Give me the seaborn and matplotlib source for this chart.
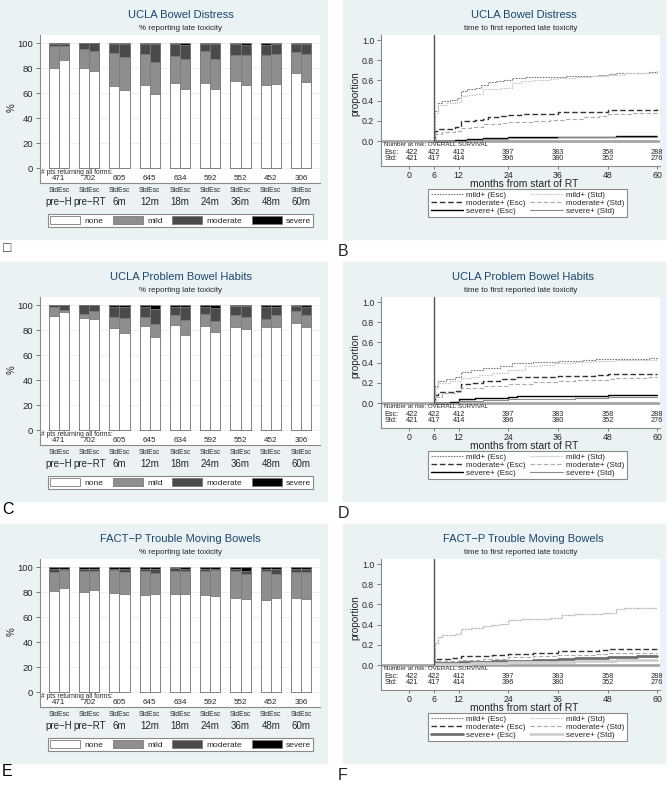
import numpy as np
import pandas as pd
import matplotlib
matplotlib.use("Agg")
import matplotlib.pyplot as plt
import seaborn as sns
from matplotlib.patches import Rectangle, Patch
from matplotlib.lines import Line2D

sns.set_style("white")
plt.rcParams["font.family"] = ["Liberation Sans", "DejaVu Sans"]

# ---------------- data ----------------
timepoints = ["pre\u2212H", "pre\u2212RT", "6m", "12m", "18m", "24m", "36m", "48m", "60m"]
pts_returning = [471, 702, 605, 645, 634, 592, 552, 452, 306]

# UCLA Bowel Distress (% none / mild / moderate / severe)
a_std_none = [80.0, 80.5, 65.9, 66.9, 68.5, 68.5, 69.9, 66.4, 76.5]
a_std_mild = [18.1, 15.0, 26.6, 24.6, 21.6, 25.4, 20.5, 24.3, 16.6]
a_std_mod = [1.4, 4.5, 7.0, 8.0, 9.1, 5.8, 9.3, 8.0, 6.6]
a_std_sev = [0.5, 0.0, 0.5, 0.5, 0.8, 0.3, 0.3, 1.3, 0.3]
a_esc_none = [86.7, 77.9, 62.7, 59.5, 63.2, 63.7, 66.9, 67.7, 69.3]
a_esc_mild = [11.2, 16.2, 26.6, 25.8, 24.0, 23.8, 24.0, 23.5, 22.2]
a_esc_mod = [1.8, 5.9, 10.2, 14.2, 11.2, 12.2, 7.8, 8.5, 8.2]
a_esc_sev = [0.3, 0.0, 0.5, 0.5, 1.6, 0.3, 1.3, 0.3, 0.3]

# UCLA Problem Bowel Habits
c_std_none = [91.2, 89.8, 81.8, 83.6, 84.2, 83.1, 82.3, 82.3, 85.8]
c_std_mild = [7.2, 3.5, 9.1, 7.3, 8.3, 9.9, 9.7, 7.0, 9.4]
c_std_mod = [1.6, 6.7, 8.0, 8.0, 6.4, 5.8, 7.5, 9.6, 4.3]
c_std_sev = [0.0, 0.0, 1.1, 1.1, 1.1, 1.2, 0.5, 1.1, 0.5]
c_esc_none = [94.4, 89.3, 77.7, 74.3, 76.4, 78.3, 81.0, 82.3, 82.3]
c_esc_mild = [2.1, 5.9, 12.4, 10.7, 12.1, 9.4, 9.9, 9.7, 9.7]
c_esc_mod = [3.5, 4.8, 8.3, 12.3, 10.4, 9.9, 8.6, 6.9, 6.9]
c_esc_sev = [0.0, 0.0, 1.6, 2.7, 1.1, 2.4, 0.5, 1.1, 1.1]

# FACT-P Trouble Moving Bowels
e_std_none = [80.8, 80.0, 79.2, 78.1, 78.4, 77.6, 75.5, 73.9, 75.2]
e_std_mild = [15.2, 17.3, 18.7, 19.0, 18.4, 19.2, 21.3, 23.4, 21.1]
e_std_mod = [2.9, 1.6, 1.0, 1.3, 2.7, 2.1, 2.1, 1.6, 2.6]
e_std_sev = [1.1, 1.1, 1.1, 1.6, 0.5, 1.1, 1.1, 1.1, 1.1]
e_esc_none = [83.5, 81.6, 78.7, 78.4, 78.4, 76.8, 74.7, 75.2, 74.4]
e_esc_mild = [14.6, 15.2, 17.6, 16.8, 18.9, 20.8, 20.0, 19.7, 21.9]
e_esc_mod = [0.8, 2.1, 2.1, 3.2, 1.6, 1.3, 2.4, 3.5, 2.1]
e_esc_sev = [1.1, 1.1, 1.6, 1.6, 1.1, 1.1, 2.9, 1.6, 1.6]

# number at risk table
risk_months = [0, 6, 12, 24, 36, 48, 60]
risk_esc = [422, 422, 412, 397, 383, 358, 288]
risk_std = [421, 417, 414, 396, 380, 352, 276]

# cumulative incidence curves (month, proportion)
mild_esc_B_m = [6, 6.2, 7, 8, 10, 11.5, 12.5, 14, 16, 17.5, 19, 21, 23, 25, 28, 33, 38, 42, 46, 48, 50, 55, 58, 60]
mild_esc_B_p = [0, 0.30, 0.38, 0.40, 0.41, 0.43, 0.50, 0.52, 0.53, 0.55, 0.58, 0.59, 0.60, 0.62, 0.63, 0.63, 0.64, 0.64, 0.65, 0.66, 0.67, 0.67, 0.68, 0.69]
mild_std_B_m = [6, 6.2, 7, 9, 11.5, 12.5, 14, 16, 18, 22, 24, 25, 27, 30, 34, 36, 40, 44, 48, 52, 56, 60]
mild_std_B_p = [0, 0.28, 0.36, 0.38, 0.39, 0.45, 0.46, 0.47, 0.52, 0.53, 0.53, 0.57, 0.59, 0.60, 0.61, 0.62, 0.63, 0.64, 0.65, 0.67, 0.67, 0.68]
mod_esc_B_m = [6, 6.2, 7, 11, 12.5, 16, 18, 19, 22, 24, 27, 33, 36, 42, 47, 48, 55, 60]
mod_esc_B_p = [0, 0.10, 0.12, 0.14, 0.20, 0.21, 0.22, 0.24, 0.25, 0.26, 0.27, 0.27, 0.29, 0.29, 0.29, 0.31, 0.31, 0.32]
mod_std_B_m = [6, 6.2, 8, 11, 12.5, 15, 18, 22, 24, 30, 34, 38, 42, 46, 48, 54, 60]
mod_std_B_p = [0, 0.07, 0.09, 0.10, 0.13, 0.14, 0.17, 0.18, 0.19, 0.20, 0.21, 0.22, 0.24, 0.25, 0.27, 0.28, 0.29]
sev_esc_B_m = [6, 9, 11, 14, 18, 24, 36, 50, 60]
sev_esc_B_p = [0, 0.005, 0.01, 0.02, 0.03, 0.04, 0.04, 0.045, 0.05]
sev_std_B_m = [6, 10, 14, 18, 24, 36, 48, 60]
sev_std_B_p = [0, 0.005, 0.01, 0.02, 0.03, 0.035, 0.04, 0.045]

mild_esc_D_m = [6, 6.2, 7, 9, 11, 12.5, 15, 18, 22, 25, 30, 36, 42, 45, 55, 58, 60]
mild_esc_D_p = [0, 0.17, 0.22, 0.24, 0.26, 0.31, 0.33, 0.35, 0.37, 0.40, 0.41, 0.42, 0.43, 0.44, 0.44, 0.45, 0.46]
mild_std_D_m = [6, 6.2, 7, 10, 12.5, 15, 17, 20, 24, 28, 32, 35, 40, 44, 50, 60]
mild_std_D_p = [0, 0.15, 0.20, 0.22, 0.25, 0.26, 0.28, 0.30, 0.33, 0.37, 0.38, 0.40, 0.41, 0.42, 0.43, 0.44]
mod_esc_D_m = [6, 6.2, 7, 11, 12.5, 15, 18, 22, 26, 30, 36, 45, 48, 60]
mod_esc_D_p = [0, 0.08, 0.11, 0.12, 0.19, 0.20, 0.22, 0.24, 0.26, 0.26, 0.27, 0.28, 0.29, 0.29]
mod_std_D_m = [6, 6.2, 8, 11, 12.5, 18, 24, 30, 36, 40, 48, 50, 58, 60]
mod_std_D_p = [0, 0.06, 0.10, 0.11, 0.15, 0.17, 0.19, 0.21, 0.22, 0.23, 0.24, 0.25, 0.26, 0.26]
sev_esc_D_m = [6, 10, 12, 16, 20, 24, 26, 36, 48, 60]
sev_esc_D_p = [0, 0.01, 0.04, 0.045, 0.05, 0.06, 0.07, 0.07, 0.075, 0.08]
sev_std_D_m = [6, 12, 18, 24, 30, 40, 48, 60]
sev_std_D_p = [0, 0.02, 0.03, 0.035, 0.04, 0.05, 0.06, 0.06]

mild_esc_F_m = [6, 6.2, 7, 8, 11, 12.5, 15, 18, 20, 22, 24, 27, 34, 37, 40, 47, 50, 52, 60]
mild_esc_F_p = [0, 0.22, 0.28, 0.30, 0.31, 0.36, 0.37, 0.39, 0.40, 0.41, 0.45, 0.46, 0.47, 0.50, 0.51, 0.52, 0.55, 0.56, 0.56]
mild_std_F_m = [6, 6.2, 7, 8, 11, 12.5, 15, 18, 20, 22, 24, 27, 34, 37, 40, 47, 50, 52, 60]
mild_std_F_p = [0, 0.22, 0.28, 0.30, 0.31, 0.36, 0.37, 0.39, 0.40, 0.41, 0.45, 0.46, 0.47, 0.50, 0.51, 0.52, 0.55, 0.56, 0.56]
mod_esc_F_m = [6, 6.2, 10, 12.5, 20, 24, 30, 36, 46, 48, 60]
mod_esc_F_p = [0, 0.06, 0.07, 0.09, 0.10, 0.11, 0.12, 0.14, 0.15, 0.16, 0.17]
mod_std_F_m = [6, 6.2, 12, 18, 24, 30, 36, 45, 48, 60]
mod_std_F_p = [0, 0.04, 0.05, 0.06, 0.08, 0.09, 0.10, 0.11, 0.12, 0.12]
sev_esc_F_m = [6, 6.2, 12, 20, 30, 36, 40, 48, 55, 60]
sev_esc_F_p = [0, 0.02, 0.03, 0.04, 0.05, 0.06, 0.07, 0.08, 0.09, 0.09]
sev_std_F_m = [6, 6.2, 15, 24, 40, 50, 60]
sev_std_F_p = [0, 0.01, 0.02, 0.03, 0.04, 0.05, 0.05]

# ---------------- styles ----------------
W, H = 672, 789
BG = "#eaf2f3"
TITLE_COL = "#1a476f"
SEG_COLORS = {"none": "#ffffff", "mild": "#8e8e8e", "moderate": "#4a4a4a", "severe": "#000000"}

STY_MILD_ESC = dict(color="#7a7a7a", ls=(0, (1.5, 1.0)), lw=0.8)
STY_MILD_STD = dict(color="#c4c4c4", ls=(0, (1.5, 1.0)), lw=0.8)
STY_MOD_ESC = dict(color="#333333", ls=(0, (4, 2)), lw=1.0)
STY_MOD_STD = dict(color="#ababab", ls=(0, (4, 2)), lw=0.8)
STY_SEV_ESC = dict(color="#000000", ls="-", lw=1.0)
STY_SEV_STD = dict(color="#8a8a8a", ls="-", lw=0.8)
STY_SEV_ESC_F = dict(color="#707070", ls="-", lw=2.0)
STY_SEV_STD_F = dict(color="#cfcfcf", ls="-", lw=2.0)

fig = plt.figure(figsize=(W / 100, H / 100), dpi=100)


def frect(x0, y0, x1, y1):
    return [x0 / W, 1 - y1 / H, (x1 - x0) / W, (y1 - y0) / H]


def fpt(x, y):
    return (x / W, 1 - y / H)


def background(x0, y0, x1, y1):
    fig.patches.append(Rectangle(fpt(x0, y1), (x1 - x0) / W, (y1 - y0) / H,
                                 transform=fig.transFigure, color=BG, zorder=-10))


def bar_panel(oy, title, std, esc, letter):
    background(0, oy, 327, oy + 239)
    fig.text(*fpt(180.5, oy + 15), title, ha="center", va="center", fontsize=8, color=TITLE_COL)
    fig.text(*fpt(180.5, oy + 28), "% reporting late toxicity", ha="center", va="center", fontsize=5.8)

    ax = fig.add_axes(frect(40, oy + 35, 320, oy + 183))
    ax.set_facecolor("white")

    rows = []
    for arm, parts in (("Std", std), ("Esc", esc)):
        for i, tp in enumerate(timepoints):
            rows.append(dict(timepoint=tp, arm=arm, none=parts[0][i], mild=parts[1][i],
                             moderate=parts[2][i], severe=parts[3][i]))
    df = pd.DataFrame(rows)
    df["c_none"] = df["none"]
    df["c_mild"] = df["c_none"] + df["mild"]
    df["c_moderate"] = df["c_mild"] + df["moderate"]
    df["c_severe"] = df["c_moderate"] + df["severe"]

    for seg in ["severe", "moderate", "mild", "none"]:
        col = SEG_COLORS[seg]
        sns.barplot(data=df, x="timepoint", y="c_" + seg, hue="arm", order=timepoints,
                    hue_order=["Std", "Esc"], palette=[col, col], saturation=1,
                    width=2 / 3, gap=0, dodge=True, errorbar=None, legend=False,
                    edgecolor="#7a7a7a", linewidth=0.6, ax=ax)

    ax.set_xlim(-0.628, 8.628)
    ax.set_ylim(-11.8, 106.6)
    ax.set_xticks([])
    ax.set_xlabel("")
    ax.set_ylabel("")
    ax.set_yticks(range(0, 101, 20))
    ax.tick_params(axis="y", labelsize=6.8, length=3, width=0.6, color="#666666", pad=2, left=True)
    ax.yaxis.grid(True, color="#ececec", lw=0.6)
    ax.set_axisbelow(True)
    for s in ("top", "right"):
        ax.spines[s].set_visible(False)
    for s in ("left", "bottom"):
        ax.spines[s].set_color("#8a8a8a")
        ax.spines[s].set_linewidth(0.8)

    ax.text(-0.6, -3.0, "# pts returning all forms:", fontsize=4.8, ha="left", va="center")
    for i, n in enumerate(pts_returning):
        ax.text(i, -8.4, str(n), fontsize=5.8, ha="center", va="center")
        ax.text(i, (183 - 190) / 148, "StdEsc", fontsize=4.9, ha="center", va="center",
                transform=ax.get_xaxis_transform())
        ax.text(i, (183 - 202) / 148, timepoints[i], fontsize=7, ha="center", va="center",
                transform=ax.get_xaxis_transform())
    fig.text(*fpt(12, oy + 108), "%", ha="center", va="center", fontsize=7, rotation=90)

    handles = [Patch(facecolor=SEG_COLORS[s], edgecolor="#7a7a7a", lw=0.6)
               for s in ["none", "mild", "moderate", "severe"]]
    leg = ax.legend(handles, ["none", "mild", "moderate", "severe"], ncol=4, loc="center",
                    bbox_to_anchor=fpt(180.5, oy + 220.5), bbox_transform=fig.transFigure,
                    fontsize=6, handlelength=3.6, handleheight=1.15, handletextpad=0.5,
                    columnspacing=1.15, borderpad=0.25, frameon=True, fancybox=False,
                    edgecolor="#8a8a8a", framealpha=1)
    leg.get_frame().set_linewidth(0.8)

    fig.text(*fpt(3 if letter == "\u25a1" else 2, oy + 248), letter, ha="left", va="center",
             fontsize=11.5 if letter != "\u25a1" else 10, color="#333333" if letter == "\u25a1" else "black")


def km_panel(oy, title, series, letter):
    background(343, oy, 665, oy + 239)
    fig.text(*fpt(523.5, oy + 15), title, ha="center", va="center", fontsize=8, color=TITLE_COL)
    fig.text(*fpt(521, oy + 28), "time to first reported late toxicity", ha="center",
             va="center", fontsize=5.8)

    ax = fig.add_axes(frect(381, oy + 35, 660, oy + 166))
    ax.set_facecolor("white")

    handles, labels = [], []
    for label, months, props, sty in series:
        sns.lineplot(x=months, y=props, ax=ax, color=sty["color"], linestyle=sty["ls"],
                     lw=sty["lw"], drawstyle="steps-post", estimator=None, sort=False)
        handles.append(Line2D([0], [0], color=sty["color"], linestyle=sty["ls"], lw=sty["lw"]))
        labels.append(label)

    ax.axhline(0, color="#a6a6a6", lw=2.0, zorder=1)
    ax.axvline(6, ymin=0.2475 / 1.2975, ymax=1, color="#555555", lw=1.0)

    ax.set_xlim(-6.77, 60.66)
    ax.set_ylim(-0.2475, 1.05)
    ax.set_xticks(risk_months)
    ax.set_yticks([0, 0.2, 0.4, 0.6, 0.8, 1.0])
    ax.set_yticklabels(["0.0", "0.2", "0.4", "0.6", "0.8", "1.0"])
    ax.tick_params(labelsize=6.3, length=3, width=0.6, color="#666666", pad=2, left=True, bottom=True)
    ax.tick_params(axis="x", length=2.5, pad=0.8)
    ax.set_xlabel("")
    ax.set_ylabel("")
    for s in ("top", "right"):
        ax.spines[s].set_visible(False)
    for s in ("left", "bottom"):
        ax.spines[s].set_color("#8a8a8a")
        ax.spines[s].set_linewidth(0.8)

    ax.text(-6.0, -0.005, "Number at risk: OVERALL SURVIVAL", fontsize=4.5, ha="left", va="top")
    ax.text(-5.9, -0.112, "Esc:", fontsize=5.3, ha="left", va="center")
    ax.text(-5.9, -0.178, "Std:", fontsize=5.3, ha="left", va="center")
    for m, ne, ns in zip(risk_months, risk_esc, risk_std):
        ax.text(m + 0.8 if m == 0 else m, -0.112, str(ne), fontsize=5.3, ha="center", va="center")
        ax.text(m + 0.8 if m == 0 else m, -0.178, str(ns), fontsize=5.3, ha="center", va="center")

    fig.text(*fpt(524, oy + 184), "months from start of RT", ha="center", va="center", fontsize=7.5)
    fig.text(*fpt(355, oy + 94), "proportion", ha="center", va="center", fontsize=7.2, rotation=90)

    leg = ax.legend(handles, labels, ncol=2, loc="center",
                    bbox_to_anchor=fpt(527.5, oy + 203), bbox_transform=fig.transFigure,
                    fontsize=5.8, handlelength=4.0, handletextpad=0.4, columnspacing=0.6,
                    labelspacing=0.05, borderpad=0.3, frameon=True, fancybox=False,
                    edgecolor="#8a8a8a", framealpha=1)
    leg.get_frame().set_linewidth(0.8)

    fig.text(*fpt(338, oy + 251), letter, ha="left", va="center", fontsize=11.5)


ROWS = [0, 262, 524]

bar_panel(ROWS[0], "UCLA Bowel Distress",
          [a_std_none, a_std_mild, a_std_mod, a_std_sev],
          [a_esc_none, a_esc_mild, a_esc_mod, a_esc_sev], "\u25a1")
bar_panel(ROWS[1], "UCLA Problem Bowel Habits",
          [c_std_none, c_std_mild, c_std_mod, c_std_sev],
          [c_esc_none, c_esc_mild, c_esc_mod, c_esc_sev], "C")
bar_panel(ROWS[2], "FACT\u2212P Trouble Moving Bowels",
          [e_std_none, e_std_mild, e_std_mod, e_std_sev],
          [e_esc_none, e_esc_mild, e_esc_mod, e_esc_sev], "E")

km_panel(ROWS[0], "UCLA Bowel Distress", [
    ("mild+ (Esc)", mild_esc_B_m, mild_esc_B_p, STY_MILD_ESC),
    ("moderate+ (Esc)", mod_esc_B_m, mod_esc_B_p, STY_MOD_ESC),
    ("severe+ (Esc)", sev_esc_B_m, sev_esc_B_p, STY_SEV_ESC),
    ("mild+ (Std)", mild_std_B_m, mild_std_B_p, STY_MILD_STD),
    ("moderate+ (Std)", mod_std_B_m, mod_std_B_p, STY_MOD_STD),
    ("severe+ (Std)", sev_std_B_m, sev_std_B_p, STY_SEV_STD),
], "B")
km_panel(ROWS[1], "UCLA Problem Bowel Habits", [
    ("mild+ (Esc)", mild_esc_D_m, mild_esc_D_p, STY_MILD_ESC),
    ("moderate+ (Esc)", mod_esc_D_m, mod_esc_D_p, STY_MOD_ESC),
    ("severe+ (Esc)", sev_esc_D_m, sev_esc_D_p, STY_SEV_ESC),
    ("mild+ (Std)", mild_std_D_m, mild_std_D_p, STY_MILD_STD),
    ("moderate+ (Std)", mod_std_D_m, mod_std_D_p, STY_MOD_STD),
    ("severe+ (Std)", sev_std_D_m, sev_std_D_p, STY_SEV_STD),
], "D")
km_panel(ROWS[2], "FACT\u2212P Trouble Moving Bowels", [
    ("mild+ (Esc)", mild_esc_F_m, mild_esc_F_p, STY_MILD_ESC),
    ("moderate+ (Esc)", mod_esc_F_m, mod_esc_F_p, STY_MOD_ESC),
    ("severe+ (Esc)", sev_esc_F_m, sev_esc_F_p, STY_SEV_ESC_F),
    ("mild+ (Std)", mild_std_F_m, mild_std_F_p, STY_MILD_STD),
    ("moderate+ (Std)", mod_std_F_m, mod_std_F_p, STY_MOD_STD),
    ("severe+ (Std)", sev_std_F_m, sev_std_F_p, STY_SEV_STD_F),
], "F")

fig.savefig("out.png", dpi=100)
